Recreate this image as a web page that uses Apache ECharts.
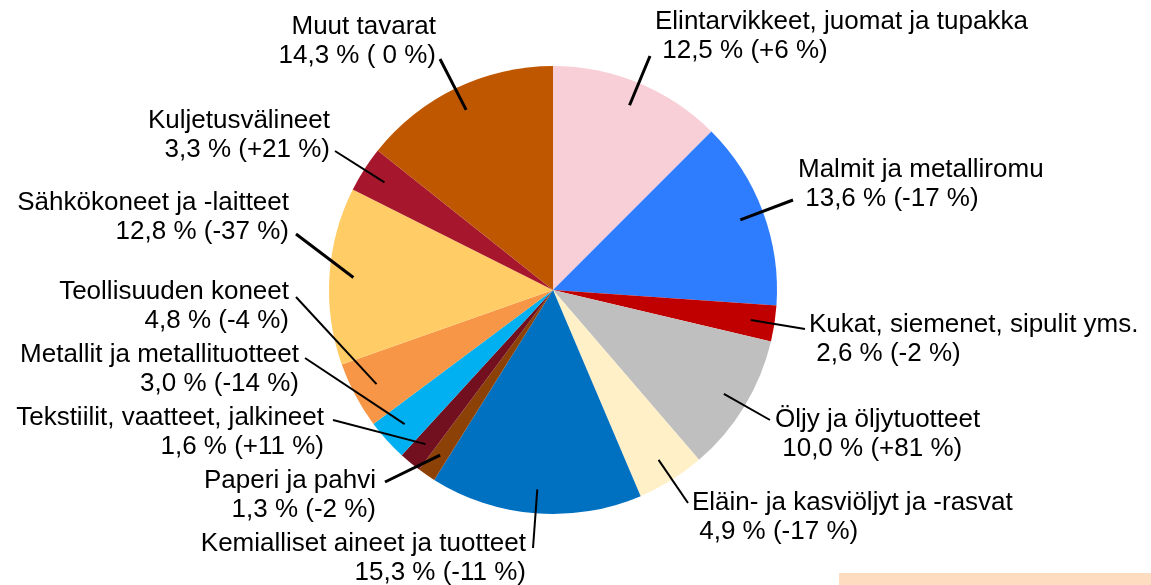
<!DOCTYPE html>
<html>
<head>
<meta charset="utf-8">
<script src="https://cdn.jsdelivr.net/npm/echarts@6/dist/echarts.min.js"></script>
<style>
html,body{margin:0;padding:0;background:#fff;}
#c{width:1151px;height:585px;}
</style>
</head>
<body>
<div id="c"></div>
<script>
// ---- data ----
var categories = [
  'Elintarvikkeet, juomat ja tupakka',
  'Malmit ja metalliromu',
  'Kukat, siemenet, sipulit yms.',
  'Öljy ja öljytuotteet',
  'Eläin- ja kasviöljyt ja -rasvat',
  'Kemialliset aineet ja tuotteet',
  'Paperi ja pahvi',
  'Tekstiilit, vaatteet, jalkineet',
  'Metallit ja metallituotteet',
  'Teollisuuden koneet',
  'Sähkökoneet ja -laitteet',
  'Kuljetusvälineet',
  'Muut tavarat'
];
var shares  = [12.5, 13.6, 2.6, 10.0, 4.9, 15.3, 1.3, 1.6, 3.0, 4.8, 12.8, 3.3, 14.3];
var changes = [6, -17, -2, 81, -17, -11, -2, 11, -14, -4, -37, 21, 0];

// ---- styles / layout ----
var colors = ['#F8CFD6', '#2F7DFF', '#C00000', '#BFBFBF', '#FFF0C8', '#0070C0', '#8C4106',
              '#731020', '#00B0F0', '#F79646', '#FFCC66', '#A6172D', '#BF5700'];
var lineWidths = [3, 3, 2, 2, 2, 2, 3, 2, 2, 2, 3, 2, 3];
// label anchor (text block) and outer end of leader line
var labelLayoutCfg = [
  {side: 'R', x: 655, y: 36,  lx: 650, ly: 56},
  {side: 'R', x: 798, y: 184, lx: 793, ly: 200},
  {side: 'R', x: 809, y: 339, lx: 805, ly: 329},
  {side: 'R', x: 775, y: 434, lx: 770, ly: 420},
  {side: 'R', x: 692, y: 517, lx: 688, ly: 503},
  {side: 'L', x: 526, y: 558, lx: 533, ly: 548},
  {side: 'L', x: 376, y: 495, lx: 385, ly: 482},
  {side: 'L', x: 324, y: 432, lx: 333, ly: 420},
  {side: 'L', x: 299, y: 369, lx: 305, ly: 358},
  {side: 'L', x: 289, y: 306, lx: 296, ly: 297},
  {side: 'L', x: 289, y: 217, lx: 296, ly: 234},
  {side: 'L', x: 330, y: 135, lx: 335, ly: 151},
  {side: 'L', x: 436, y: 41,  lx: 440, ly: 59}
];
var CX = 553, CY = 290, R = 224, R_IN = 200;

function fmtShare(v) { return v.toFixed(1).replace('.', ','); }
function fmtChange(c) { return c > 0 ? '+' + c : (c === 0 ? ' 0' : String(c)); }

var total = shares.reduce(function (a, b) { return a + b; }, 0);
function midAngle(i) {
  var before = 0;
  for (var k = 0; k < i; k++) before += shares[k];
  return (before + shares[i] / 2) / total * 2 * Math.PI;
}

var data = categories.map(function (name, i) {
  return {name: name, value: shares[i], itemStyle: {color: colors[i]}};
});

// leader lines drawn on top of the slices, starting inside each slice
var leaderLines = shares.map(function (v, i) {
  var a = labelLayoutCfg[i];
  var ang = midAngle(i);
  return {
    type: 'line',
    z: 100,
    silent: true,
    shape: {
      x1: CX + R_IN * Math.sin(ang), y1: CY - R_IN * Math.cos(ang),
      x2: a.lx, y2: a.ly
    },
    style: {stroke: '#000', lineWidth: lineWidths[i], lineCap: 'butt'}
  };
});

var chart = echarts.init(document.getElementById('c'), null, {renderer: 'canvas'});
chart.setOption({
  animation: false,
  backgroundColor: '#ffffff',
  graphic: [{
    type: 'rect', shape: {x: 839, y: 573, width: 312, height: 12},
    style: {fill: '#FDDCBF'}, silent: true
  }].concat(leaderLines),
  series: [{
    type: 'pie',
    center: [CX, CY],
    radius: R,
    startAngle: 90,
    clockwise: true,
    avoidLabelOverlap: false,
    itemStyle: {borderWidth: 0},
    emphasis: {disabled: true},
    label: {
      show: true,
      color: '#000',
      fontFamily: '"Liberation Sans", Arial, sans-serif',
      fontSize: 26,
      lineHeight: 29,
      formatter: function (p) {
        var i = p.dataIndex;
        var pre = labelLayoutCfg[i].side === 'R' ? ' ' : '';
        return categories[i] + '\n' + pre + fmtShare(shares[i]) + ' % (' + fmtChange(changes[i]) + ' %)';
      }
    },
    labelLine: {show: false},
    labelLayout: function (params) {
      var i = params.dataIndex;
      var a = labelLayoutCfg[i];
      return {
        x: a.x, y: a.y,
        align: a.side === 'R' ? 'left' : 'right',
        verticalAlign: 'middle'
      };
    },
    data: data
  }]
});
</script>
</body>
</html>
